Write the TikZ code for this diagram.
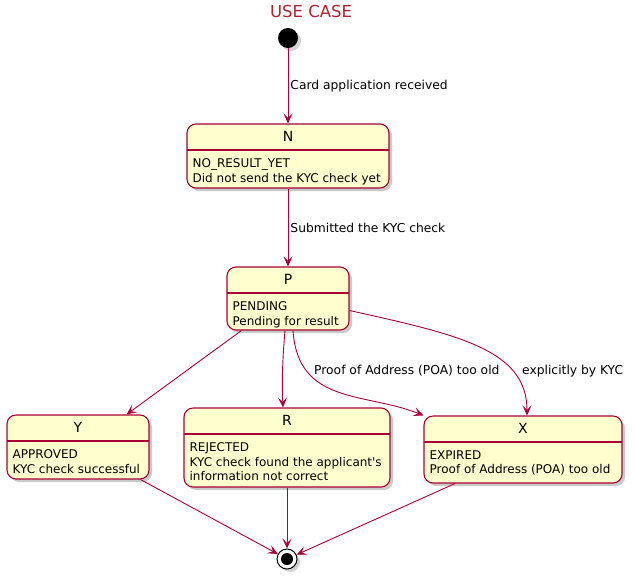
\documentclass[tikz,border=0pt]{standalone}
\usepackage{fontspec}
\setmainfont{DejaVu Sans}[Ligatures=TeXOff]
\usetikzlibrary{arrows.meta,shadows}
\definecolor{umlred}{HTML}{A80036}
\definecolor{umlfill}{HTML}{FEFECE}
\definecolor{titlered}{RGB}{178,34,44}
\begin{document}
\begin{tikzpicture}[
        x=1pt, y=-1pt,
        statebox/.style = {draw=umlred, fill=umlfill, line width=1.1pt, rounded corners=9pt,
            drop shadow={shadow xshift=3pt, shadow yshift=-3pt, opacity=0.35, fill=black!60},
            path picture={\draw[umlred, line width=1.3pt]
                ([yshift=-26pt]path picture bounding box.north west) --
                ([yshift=-26pt]path picture bounding box.north east);}},
        statehead/.style = {font=\fontsize{14}{16}\selectfont, inner sep=0pt},
        statebody/.style = {font=\fontsize{12}{14.5}\selectfont, align=left, inner sep=0pt, anchor=north west},
        edgelabel/.style = {font=\fontsize{12.3}{14}\selectfont, inner sep=0pt, anchor=west},
        trans/.style = {draw=umlred, line width=0.9pt, -{Stealth[length=10pt, width=9pt, inset=4.5pt]}}
        ]
        \useasboundingbox (0,0) rectangle (636,579);

        \node[font=\fontsize{16.5}{18}\selectfont, text=titlered] (title) at (311,11) {USE CASE};

        % start and end
        \node[circle, fill=black, minimum size=20pt, inner sep=0pt,
            drop shadow={shadow xshift=3pt, shadow yshift=-3pt, opacity=0.35}] (start) at (288,38) {};
        \node[circle, draw=black, fill=white, line width=1pt, minimum size=20pt, inner sep=0pt,
            drop shadow={shadow xshift=3pt, shadow yshift=-3pt, opacity=0.35},
            path picture={\fill[black] (path picture bounding box.center) circle (6pt);}] (end) at (287,559) {};

        % states
        \node[statebox, minimum width=202pt, minimum height=64pt] (N) at (288,156) {};
        \node[statehead] (Nt) at ([yshift=-13pt]N.north) {N};
        \node[statebody] (Nb) at ([xshift=6pt,yshift=-35pt]N.north west) {NO\_RESULT\_YET\\Did not send the KYC check yet};

        \node[statebox, minimum width=122pt, minimum height=63pt] (P) at (288,298.5) {};
        \node[statehead] (Pt) at ([yshift=-13pt]P.north) {P};
        \node[statebody] (Pb) at ([xshift=6pt,yshift=-35pt]P.north west) {PENDING\\Pending for result};

        \node[statebox, minimum width=142pt, minimum height=64pt] (Y) at (78,447) {};
        \node[statehead] (Yt) at ([yshift=-13pt]Y.north) {Y};
        \node[statebody] (Yb) at ([xshift=6pt,yshift=-35pt]Y.north west) {APPROVED\\KYC check successful};

        \node[statebox, minimum width=206pt, minimum height=79pt] (R) at (287,447.5) {};
        \node[statehead] (Rt) at ([yshift=-13pt]R.north) {R};
        \node[statebody] (Rb) at ([xshift=6pt,yshift=-35pt]R.north west) {REJECTED\\KYC check found the applicant's\\information not correct};

        \node[statebox, minimum width=198pt, minimum height=67pt] (X) at (523,449.5) {};
        \node[statehead] (Xt) at ([yshift=-13pt]X.north) {X};
        \node[statebody] (Xb) at ([xshift=6pt,yshift=-35pt]X.north west) {EXPIRED\\Proof of Address (POA) too old};

        % transitions
        \draw[trans] (start) -- (N.north) node[edgelabel, midway, xshift=2pt] (l1) {Card application received};
        \draw[trans] (N.south) -- (P.north) node[edgelabel, midway, xshift=2pt] (l2) {Submitted the KYC check};
        \draw[trans] ([xshift=15pt]P.south west) -- ([xshift=-23pt]Y.north east);
        \draw[trans] ([xshift=-3pt]P.south) .. controls (282,365) and (282,385) .. ([xshift=-4pt]R.north);
        \draw[trans] ([xshift=5pt]P.south) .. controls (298,405) and (365,392) .. (X.north west);
        \draw[trans] ([yshift=-12pt]P.east) .. controls (460,335) and (527,350) .. ([xshift=4pt]X.north);
        \node[edgelabel] (l3) at (314,371) {Proof of Address (POA) too old};
        \node[edgelabel] (l4) at (522,371) {explicitly by KYC};
        \draw[trans] ([xshift=-9pt]Y.south east) -- (end);
        \draw[trans] (R.south) -- (end);
        \draw[trans] ([xshift=-68pt]X.south) -- (end);
\end{tikzpicture}
\end{document}
